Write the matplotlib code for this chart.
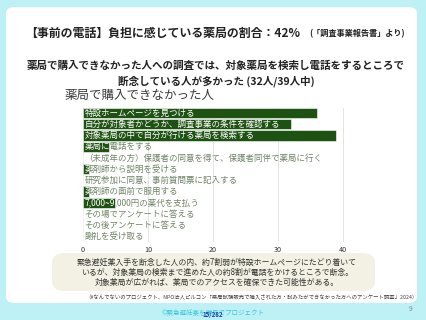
# -*- coding: utf-8 -*-
# Slide: 薬局で購入できなかった人 (horizontal bars, labels drawn over bars)

import matplotlib
matplotlib.use("Agg")
import matplotlib.pyplot as plt
from matplotlib.patches import FancyBboxPatch

plt.rcParams["font.family"] = ["Noto Sans CJK JP", "DejaVu Sans"]

W, H = 427, 320

steps = [
    "特設ホームページを見つける",
    "自分が対象者かどうか、調査事業の条件を確認する",
    "対象薬局の中で自分が行ける薬局を検索する",
    "薬局に電話をする",
    "（未成年の方）保護者の同意を得て、保護者同伴で薬局に行く",
    "薬剤師から説明を受ける",
    "研究参加に同意、事前質問票に記入する",
    "薬剤師の面前で服用する",
    "7,000~9,000円の薬代を支払う",
    "その場でアンケートに答える",
    "その後アンケートに答える",
    "謝礼を受け取る",
]
counts = [36, 32, 39, 4, 0, 1, 0, 1, 5, 0, 0, 0]
ticks = [0, 10, 20, 30, 40]

BAR = "#1e5212"
LABEL = "#6f8566"


def fx(px):
    return px / W


def fy(py):
    return 1 - py / H


fig = plt.figure(figsize=(W / 100, H / 100), dpi=100)
fig.patch.set_facecolor("#bdf1f6")

# white slide panel (below the axes)
panel = FancyBboxPatch((fx(6), fy(303)), fx(411), (303 - 7) / H,
                       boxstyle="round,pad=0,rounding_size=0.02",
                       transform=fig.transFigure, facecolor="white",
                       edgecolor="none", zorder=-2)
fig.patches.append(panel)

# headings
fig.text(fx(25), fy(33), "【事前の電話】負担に感じている薬局の割合：42%",
         fontsize=8.6, fontweight="bold", color="#222222", va="center")
fig.text(fx(309), fy(34), "(「調査事業報告書」より)",
         fontsize=5.9, fontweight="bold", color="#222222", va="center")
fig.text(fx(216), fy(66),
         "薬局で購入できなかった人への調査では、対象薬局を検索し電話をするところで",
         fontsize=7.6, fontweight="bold", color="#222222", ha="center", va="center")
fig.text(fx(216), fy(81), "断念している人が多かった (32人/39人中)",
         fontsize=7.6, fontweight="bold", color="#222222", ha="center", va="center")
fig.text(fx(65), fy(96), "薬局で購入できなかった人",
         fontsize=9.0, color="#3a3a3a", va="center")

# chart
x0, x40 = 83, 343
xmax = 42.5
right = x0 + (x40 - x0) / 40 * xmax
top, bottom = 107.5, 242
ax = fig.add_axes([fx(x0), fy(bottom), fx(right - x0), (bottom - top) / H])
ax.set_facecolor("none")

ypos = list(range(len(steps)))
bars = ax.barh(ypos, counts, height=0.92, color=BAR, edgecolor="white",
               linewidth=0.4, zorder=2)
for i, (label, bar) in enumerate(zip(steps, bars)):
    ax.text(0.25, i, label, fontsize=6.1, color=LABEL, va="center", zorder=1)
    # white copy of the label, visible only where the bar lies under it
    t = ax.text(0.25, i, label, fontsize=6.1, color="white", va="center",
                zorder=3, clip_on=True)
    t.set_clip_path(bar)

ax.set_xlim(0, xmax)
ax.set_ylim(len(steps) - 0.5, -0.5)
ax.set_xticks(ticks)
ax.set_yticks([])
ax.grid(axis="x", color="#e4e4e4", linewidth=0.7, zorder=0)
ax.set_axisbelow(True)
for s in ax.spines.values():
    s.set_visible(False)
ax.tick_params(axis="x", length=0, labelsize=5.2, labelcolor="#333333", pad=3)

# comment box
box = FancyBboxPatch((fx(52), fy(291)), fx(323), (291 - 253) / H,
                     boxstyle="round,pad=0,rounding_size=0.03",
                     transform=fig.transFigure, facecolor="#f3f1e3",
                     edgecolor="none", zorder=-1)
fig.patches.append(box)
notes = [
    "緊急避妊薬入手を断念した人の内、約7割弱が特設ホームページにたどり着いて",
    "いるが、対象薬局の検索まで進めた人の約8割が電話をかけるところで断念。",
    "対象薬局が広がれば、薬局でのアクセスを確保できた可能性がある。",
]
for k, line in enumerate(notes):
    fig.text(fx(217), fy(262 + 10 * k), line, fontsize=5.7, color="#333333",
             ha="center", va="center")

fig.text(fx(418), fy(297),
         "（#なんでないのプロジェクト、NPO法人ピルコン「薬局試験販売で購入された方・試みたができなかった方へのアンケート調査」2024）",
         fontsize=3.85, color="#444444", ha="right", va="center")

# footer (page counter overlay sits on the footer text, as in the slide)
fig.text(fx(213), fy(313), "©緊急避妊薬を薬局でプロジェクト", fontsize=4.7,
         color="#3cc6dc", ha="center", va="center")
fig.text(fx(213), fy(314), "15/282", fontsize=4.4, fontweight="bold",
         color="#1a3fb0", ha="center", va="center")
fig.text(fx(411), fy(309), "9", fontsize=4.8, color="#888888",
         ha="center", va="center")

fig.savefig("out.png", dpi=100, facecolor=fig.get_facecolor())
